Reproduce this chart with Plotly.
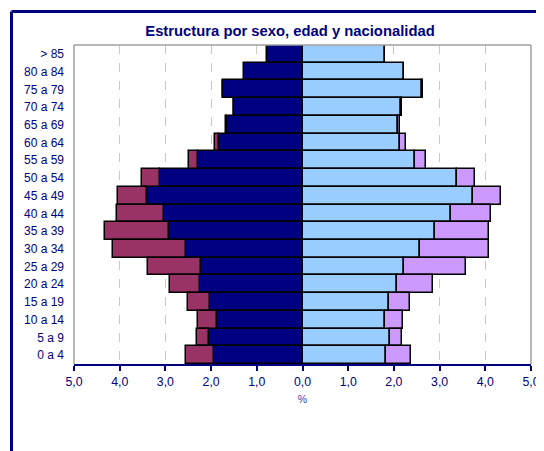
import plotly.graph_objects as go

ages = ["> 85", "80 a 84", "75 a 79", "70 a 74", "65 a 69", "60 a 64", "55 a 59",
        "50 a 54", "45 a 49", "40 a 44", "35 a 39", "30 a 34", "25 a 29", "20 a 24",
        "15 a 19", "10 a 14", "5 a 9", "0 a 4"]
men_esp = [0.78, 1.27, 1.73, 1.49, 1.65, 1.83, 2.28, 3.12, 3.40, 3.03, 2.93, 2.54,
           2.22, 2.25, 2.02, 1.87, 2.04, 1.94]
men_ext = [0.00, 0.00, 0.02, 0.01, 0.02, 0.09, 0.20, 0.39, 0.64, 1.04, 1.40, 1.60,
           1.16, 0.65, 0.49, 0.42, 0.27, 0.60]
wom_esp = [1.81, 2.22, 2.62, 2.15, 2.09, 2.14, 2.47, 3.37, 3.73, 3.24, 2.90, 2.58,
           2.22, 2.06, 1.90, 1.80, 1.91, 1.82]
wom_ext = [0.00, 0.00, 0.02, 0.02, 0.05, 0.13, 0.23, 0.41, 0.62, 0.88, 1.17, 1.49,
           1.36, 0.80, 0.46, 0.39, 0.26, 0.55]
tick_vals = [-5, -4, -3, -2, -1, 0, 1, 2, 3, 4, 5]
tick_text = ["5,0", "4,0", "3,0", "2,0", "1,0", "0,0", "1,0", "2,0", "3,0", "4,0", "5,0"]

NAVY = "#000080"
line = dict(color="black", width=1.5)

fig = go.Figure()
fig.add_bar(y=ages, x=[-v for v in men_esp], orientation="h", name="Hombres españoles",
            marker=dict(color=NAVY, line=line))
fig.add_bar(y=ages, x=[-v for v in men_ext], orientation="h", name="Hombres extranjeros",
            marker=dict(color="#993366", line=line))
fig.add_bar(y=ages, x=wom_esp, orientation="h", name="Mujeres españolas",
            marker=dict(color="#99CCFF", line=line))
fig.add_bar(y=ages, x=wom_ext, orientation="h", name="Mujeres extranjeras",
            marker=dict(color="#CC99FF", line=line))

# page has an 8px body margin: figure drawn at (8, 8)
OFF = 8
W, H = 544 - OFF, 451 - OFF
L, R, T, B = 74 - OFF, W - (531 - OFF), 45 - OFF, H - (364 - OFF)
pw, ph = W - L - R, H - T - B
def px(x):
    return (x - OFF - L) / pw
def py(y):
    return (H - B - (y - OFF)) / ph

fig.update_layout(
    width=W, height=H,
    margin=dict(l=L, r=R, t=T, b=B, autoexpand=False),
    barmode="relative", bargap=0,
    showlegend=False,
    paper_bgcolor="white", plot_bgcolor="white",
    font=dict(family="Arial, Liberation Sans, sans-serif", color=NAVY, size=12),
    title=dict(text="<b>Estructura por sexo, edad y nacionalidad</b>",
               x=(290 - OFF) / W, xanchor="center", y=1 - (31 - OFF) / H, yanchor="middle",
               font=dict(size=14.8, color=NAVY)),
    xaxis=dict(range=[-5, 5], tickvals=tick_vals, ticktext=tick_text, automargin=False,
               showgrid=True, gridcolor="#c8c8c8", griddash="dash", gridwidth=1,
               zeroline=False, showline=True, linecolor=NAVY, linewidth=2,
               ticks="outside", ticklen=5, tickcolor=NAVY, tickwidth=1.5,
               tickfont=dict(size=12.3, color=NAVY),
               title=dict(text="%", font=dict(size=10.5, color="#4040a0"), standoff=8)),
    yaxis=dict(autorange="reversed", showgrid=False, zeroline=False, automargin=False,
               showline=False, ticks="", ticklabelstandoff=9,
               tickfont=dict(size=12, color=NAVY)),
    shapes=[
        dict(type="line", xref="paper", yref="paper", x0=0, x1=0, y0=0, y1=1,
             line=dict(color="#a0a0a0", width=1.5)),
        dict(type="line", xref="paper", yref="paper", x0=1, x1=1, y0=0, y1=1,
             line=dict(color="#a0a0a0", width=1.5)),
        dict(type="line", xref="paper", yref="paper", x0=0, x1=1, y0=1, y1=1,
             line=dict(color="#a0a0a0", width=1.5)),
        dict(type="line", xref="paper", yref="paper", x0=px(11.5), x1=px(11.5),
             y0=py(11.5), y1=py(480), line=dict(color=NAVY, width=3)),
        dict(type="line", xref="paper", yref="paper", x0=px(11.5), x1=px(570),
             y0=py(11.5), y1=py(11.5), line=dict(color=NAVY, width=3)),
    ],
)

fig.write_html("out.html")
